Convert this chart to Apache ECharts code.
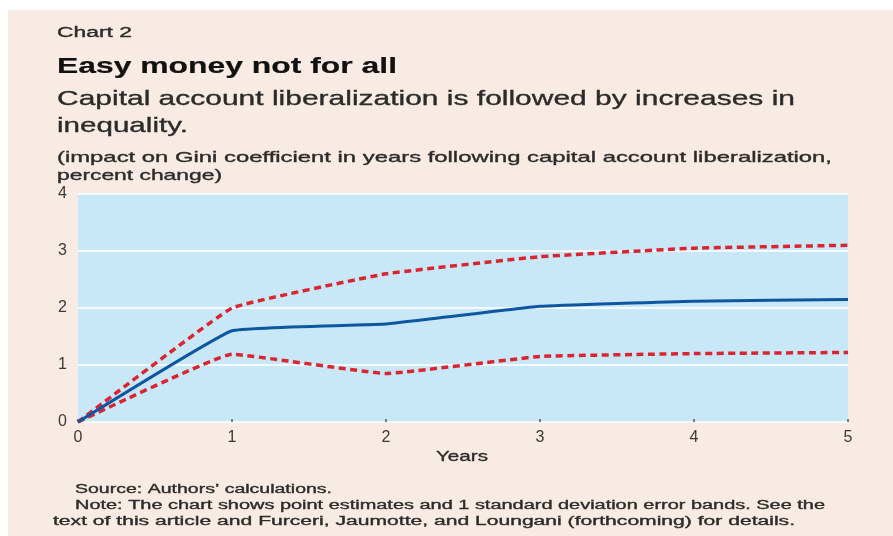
<!DOCTYPE html>
<html>
<head>
<meta charset="utf-8">
<style>
  html, body { margin: 0; padding: 0; background: #ffffff; }
  #chart { width: 893px; height: 536px; }
</style>
<script src="https://cdn.jsdelivr.net/npm/echarts@6/dist/echarts.min.js"></script>
</head>
<body>
<div id="chart"></div>
<script>
// Years after capital account liberalization
const years = ['0', '1', '2', '3', '4', '5'];
// Point estimate of the Gini impact (percent change)
const pointEstimate = [0, 1.6, 1.72, 2.03, 2.12, 2.15];
// One standard deviation error bands
const upperBand = [0, 2.0, 2.6, 2.9, 3.05, 3.1];
const lowerBand = [0, 1.19, 0.85, 1.15, 1.2, 1.22];
const yTicks = [0, 1, 2, 3, 4];

const chart = echarts.init(document.getElementById('chart'), null, { renderer: 'canvas' });

const FONT = '"Liberation Sans", Arial, sans-serif';

// Text line helper: stretches the run horizontally to the wanted width
const measureCtx = document.createElement('canvas').getContext('2d');
function textLine(str, x, y, size, width, opts) {
  opts = opts || {};
  const weight = opts.bold ? 'bold ' : '';
  const font = weight + size + 'px ' + FONT;
  measureCtx.font = font;
  const natural = measureCtx.measureText(str).width;
  const sx = width ? width / natural : 1;
  const color = opts.color || '#2b2b2b';
  return {
    type: 'text',
    x: x,
    y: y,
    scaleX: sx,
    originX: 0,
    originY: 0,
    silent: true,
    style: {
      text: str,
      font: font,
      fill: color,
      stroke: color,
      lineWidth: opts.bold ? 0.2 : 0.35,
      textVerticalAlign: 'middle',
      textAlign: 'left'
    }
  };
}

const dashed = [7, 4.5];

chart.setOption({
  animation: false,
  backgroundColor: '#ffffff',
  grid: {
    left: 78,
    right: 45,
    top: 194,
    bottom: 114,
    show: true,
    backgroundColor: '#c8e8f8',
    borderWidth: 0
  },
  xAxis: {
    type: 'category',
    data: years,
    boundaryGap: false,
    axisLine: { show: false },
    axisTick: { show: true, inside: true, length: 3, lineStyle: { color: '#555', width: 1.5 } },
    axisLabel: { color: '#3a3a3a', fontSize: 16, fontFamily: FONT, margin: 8 },
    splitLine: { show: false }
  },
  yAxis: {
    type: 'value',
    min: yTicks[0],
    max: yTicks[yTicks.length - 1],
    interval: 1,
    axisLine: { show: false },
    axisTick: { show: false },
    axisLabel: { color: '#3a3a3a', fontSize: 16, fontFamily: FONT, margin: 11 },
    splitLine: { show: true, lineStyle: { color: '#f4fbff', width: 2 } }
  },
  series: [
    {
      name: 'Upper band',
      type: 'line',
      data: upperBand,
      smooth: 0.08,
      symbol: 'none',
      lineStyle: { color: '#dc2430', width: 3.5, type: dashed },
      z: 3
    },
    {
      name: 'Lower band',
      type: 'line',
      data: lowerBand,
      smooth: 0.08,
      symbol: 'none',
      lineStyle: { color: '#dc2430', width: 3.5, type: dashed },
      z: 3
    },
    {
      name: 'Point estimate',
      type: 'line',
      data: pointEstimate,
      smooth: 0.08,
      symbol: 'none',
      lineStyle: { color: '#0e57a0', width: 3 },
      z: 4
    }
  ],
  graphic: [
    {
      type: 'rect',
      shape: { x: 8, y: 10, width: 885, height: 526 },
      style: { fill: '#f8ebe3' },
      z: -10,
      silent: true
    },
    textLine('Chart 2', 57, 33, 14, 75),
    textLine('Easy money not for all', 57, 67, 22, 340, { bold: true, color: '#111111' }),
    textLine('Capital account liberalization is followed by increases in', 57, 99, 21, 738),
    textLine('inequality.', 57, 126, 21, 131),
    textLine('(impact on Gini coefficient in years following capital account liberalization,', 57, 158, 15, 775),
    textLine('percent change)', 57, 176, 15, 165),
    textLine('Years', 436, 457, 15, 52),
    textLine('Source: Authors\u2019 calculations.', 75, 490, 12.5, 257),
    textLine('Note: The chart shows point estimates and 1 standard deviation error bands. See the', 75, 506, 12.5, 750),
    textLine('text of this article and Furceri, Jaumotte, and Loungani (forthcoming) for details.', 53, 522, 12.5, 742)
  ]
});
</script>
</body>
</html>
